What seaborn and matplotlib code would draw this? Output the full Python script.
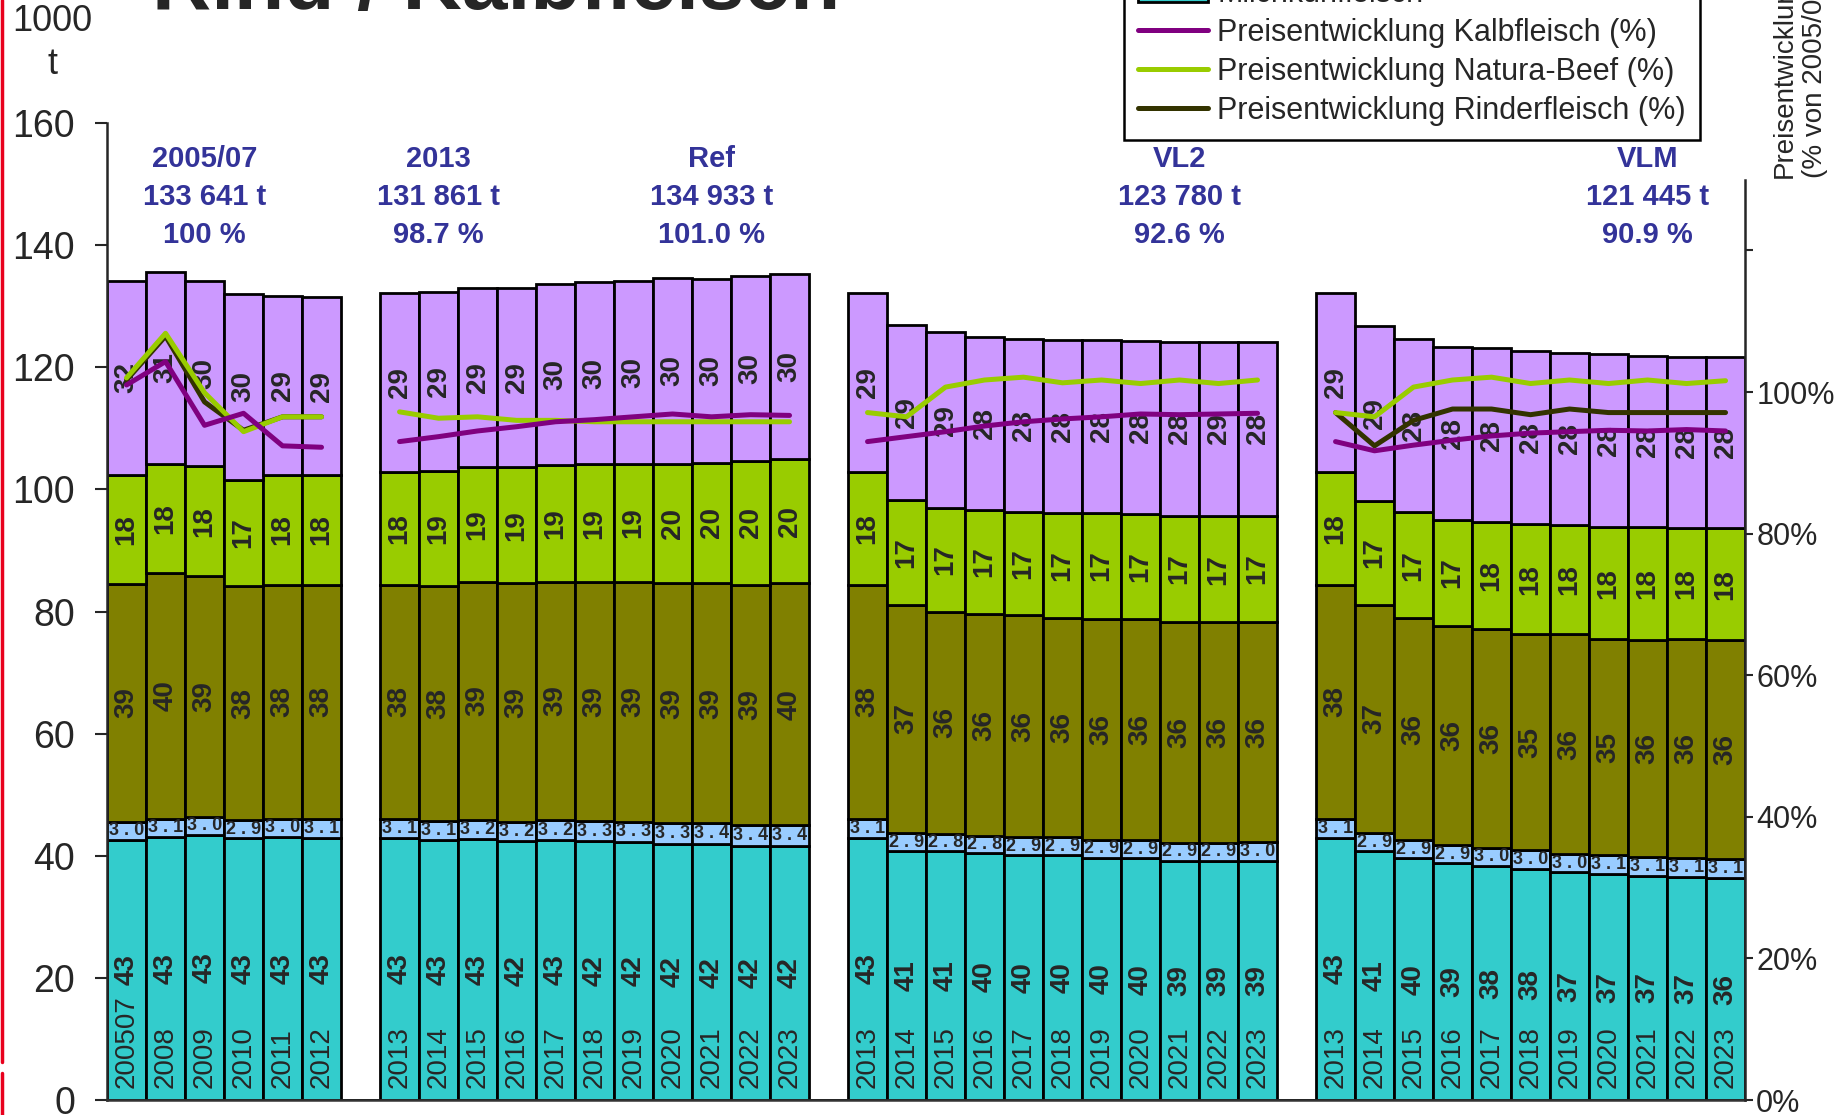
import matplotlib
matplotlib.use('Agg')
import matplotlib.pyplot as plt
from matplotlib.lines import Line2D
from matplotlib.patches import Patch
import numpy as np
import pandas as pd
import seaborn as sns

sns.set_style('ticks')
plt.rcParams['font.family'] = ['Liberation Sans', 'DejaVu Sans']

# ---- data (1000 t), groups: 2005/07-2012 | Ref | VL2 | VLM ----
group_sizes = [6, 11, 11, 11]
years = (['200507', '2008', '2009', '2010', '2011', '2012']
         + [str(y) for y in range(2013, 2024)] * 3)

milchkuh = [42.6, 43.0, 43.4, 42.9, 43.1, 42.9,
            42.9, 42.6, 42.7, 42.4, 42.6, 42.4, 42.3, 42.0, 41.9, 41.6, 41.6,
            42.9, 40.8, 40.8, 40.4, 40.1, 40.1, 39.7, 39.6, 39.2, 39.2, 39.2,
            42.9, 40.8, 39.6, 38.8, 38.3, 37.9, 37.3, 37.0, 36.7, 36.6, 36.3]
mutterkuh = [3.0, 3.1, 3.0, 2.9, 3.0, 3.1,
             3.1, 3.1, 3.2, 3.2, 3.2, 3.3, 3.3, 3.3, 3.4, 3.4, 3.4,
             3.1, 2.9, 2.8, 2.8, 2.9, 2.9, 2.9, 2.9, 2.9, 2.9, 3.0,
             3.1, 2.9, 2.9, 2.9, 3.0, 3.0, 3.0, 3.1, 3.1, 3.1, 3.1]
rind = [38.9, 40.2, 39.4, 38.4, 38.3, 38.4,
        38.4, 38.4, 38.9, 39.0, 39.1, 39.1, 39.2, 39.3, 39.3, 39.4, 39.6,
        38.4, 37.4, 36.4, 36.4, 36.4, 35.9, 36.2, 36.2, 36.2, 36.2, 36.1,
        38.4, 37.4, 36.4, 35.9, 35.8, 35.4, 36.0, 35.4, 35.6, 35.8, 35.9]
natura = [17.9, 17.9, 18.0, 17.4, 17.9, 17.9,
          18.4, 18.9, 18.9, 19.0, 19.1, 19.3, 19.4, 19.6, 19.8, 20.2, 20.3,
          18.4, 17.2, 16.9, 17.1, 16.9, 17.2, 17.3, 17.3, 17.4, 17.3, 17.4,
          18.4, 17.0, 17.4, 17.4, 17.6, 18.0, 17.9, 18.3, 18.4, 18.1, 18.3]
kalb = [31.7, 31.4, 30.3, 30.4, 29.4, 29.2,
        29.4, 29.4, 29.3, 29.4, 29.7, 29.8, 30.0, 30.4, 30.1, 30.3, 30.3,
        29.4, 28.7, 28.9, 28.3, 28.4, 28.3, 28.4, 28.3, 28.4, 28.6, 28.4,
        29.4, 28.6, 28.4, 28.3, 28.4, 28.4, 28.2, 28.4, 28.1, 28.1, 28.1]

# price development (% of 2005/07)
preis_kalb = [101.0, 104.3, 95.3, 97.0, 92.4, 92.2,
              93.0, 93.7, 94.5, 95.1, 95.8, 96.1, 96.5, 96.9, 96.5, 96.8, 96.7,
              93.0, 93.7, 94.4, 95.2, 95.8, 96.2, 96.5, 96.9, 96.8, 96.9, 97.0,
              93.0, 91.7, 92.5, 93.2, 93.8, 94.2, 94.4, 94.6, 94.5, 94.7, 94.5]
preis_natura = [102.0, 108.3, 99.9, 94.4, 96.5, 96.5,
                97.2, 96.3, 96.5, 96.0, 96.0, 95.8, 95.8, 95.8, 95.8, 95.8, 95.8,
                97.1, 96.5, 100.7, 101.7, 102.1, 101.3, 101.7, 101.2, 101.7, 101.2, 101.7,
                97.1, 96.5, 100.7, 101.7, 102.1, 101.2, 101.7, 101.2, 101.7, 101.2, 101.6]
preis_rind = [101.7, 107.9, 98.6, 94.6, 96.5, 96.5,
              None, None, None, None, None, None, None, None, None, None, None,
              None, None, None, None, None, None, None, None, None, None, None,
              97.1, 92.4, 96.0, 97.6, 97.6, 96.8, 97.6, 97.1, 97.1, 97.1, 97.1]

group_names = ['2005/07', '2013', 'Ref', 'VL2', 'VLM']
group_totals = ['133 641 t', '131 861 t', '134 933 t', '123 780 t', '121 445 t']
group_pcts = ['100 %', '98.7 %', '101.0 %', '92.6 %', '90.9 %']

parts = ['Kalbfleisch', 'Natura-Beef', 'Rinderfleisch', 'Mutterkuhfleisch', 'Milchkuhfleisch']
part_values = [kalb, natura, rind, mutterkuh, milchkuh]
part_colors = {'Kalbfleisch': '#CC99FF', 'Natura-Beef': '#99CC00', 'Rinderfleisch': '#808000',
               'Mutterkuhfleisch': '#99CCFF', 'Milchkuhfleisch': '#33CCCC'}
line_names = ['Preisentwicklung Kalbfleisch (%)', 'Preisentwicklung Natura-Beef (%)',
              'Preisentwicklung Rinderfleisch (%)']
line_values = [preis_kalb, preis_natura, preis_rind]
line_colors = {line_names[0]: '#800080', line_names[1]: '#99CC00', line_names[2]: '#333300'}

# bar slots with one empty slot between groups
pos, grp = [], []
start = 0
for g, n in enumerate(group_sizes):
    pos += list(range(start, start + n))
    grp += [g] * n
    start += n + 1
pos = np.array(pos)
label_pos = [2, 8, 15, 27, 39]

bars = pd.DataFrame([(p, name, v) for name, vals in zip(parts, part_values)
                     for p, v in zip(pos, vals)], columns=['pos', 'part', 't'])
lines = pd.DataFrame([(p, g, name, v) for name, vals in zip(line_names, line_values)
                      for p, g, v in zip(pos, grp, vals)],
                     columns=['pos', 'grp', 'series', 'pct']).dropna()

fig = plt.figure(figsize=(18.39, 11.15), dpi=100)
ax = fig.add_axes([0.0582, 0.01345, 0.8907, 0.87623])

sns.histplot(data=bars, x='pos', hue='part', weights='t', hue_order=parts,
             multiple='stack', discrete=True, shrink=1, palette=part_colors,
             alpha=1, edgecolor='black', linewidth=2.0, legend=False, ax=ax)

ax.set_xlim(-0.5, pos.max() + 0.5)
ax.set_ylim(0, 160)
ax.set_yticks(range(0, 161, 20))
ax.set_xticks([])
ax.set_xlabel('')
ax.set_ylabel('')
ax.tick_params(axis='y', labelsize=27, length=9, width=1.5, pad=14)
for s in ['top', 'right']:
    ax.spines[s].set_visible(False)
ax.spines['left'].set_linewidth(1.8)
ax.spines['bottom'].set_linewidth(1.8)
ax.spines['bottom'].set_color('#333333')

# segment labels
base = np.zeros(len(pos))
for name, vals in zip(parts[::-1], part_values[::-1]):
    vals = np.array(vals)
    for p, b, v in zip(pos, base, vals):
        if name == 'Mutterkuhfleisch':
            ax.text(p, b + v / 2, ' '.join(f'{v:.1f}'), ha='center', va='center',
                    fontsize=13, fontweight='bold')
        else:
            ax.text(p, b + v / 2, f'{v:.0f}', ha='center', va='center',
                    rotation=90, fontsize=20, fontweight='bold')
    base += vals

for p, y in zip(pos, years):
    ax.text(p, 2, y, ha='center', va='bottom', rotation=90, fontsize=20)

for x, a, b, c in zip(label_pos, group_names, group_totals, group_pcts):
    ax.text(x, 147.9, f'{a}\n{b}\n{c}', ha='center', va='center', fontsize=21,
            fontweight='bold', color='#333399', linespacing=1.47)

# price lines on secondary axis
ax2 = ax.twinx()
sns.lineplot(data=lines, x='pos', y='pct', hue='series', units='grp', estimator=None,
             hue_order=[line_names[2], line_names[1], line_names[0]],
             palette=line_colors, linewidth=3.6, legend=False, ax=ax2)
ax2.set_ylim(0, 138)
ax2.set_yticks(range(0, 121, 20))
ax2.set_yticklabels([f'{v}%' for v in range(0, 101, 20)] + [''])
ax2.set_xlabel('')
ax2.set_ylabel('')
ax2.tick_params(axis='y', labelsize=22, length=6, width=1.5, pad=2)
for s in ['top', 'left', 'bottom']:
    ax2.spines[s].set_visible(False)
ax2.spines['right'].set_bounds(0, 130)
ax2.spines['right'].set_linewidth(1.8)

# legend (top part runs off the figure)
handles = [Patch(facecolor=part_colors[n], edgecolor='black', linewidth=2.0, label=n) for n in parts]
handles += [Line2D([], [], color=line_colors[n], lw=3.6, label=n) for n in line_names]
fig.legend(handles=handles, loc='lower left', bbox_to_anchor=(0.6112, 0.8745),
           borderaxespad=0, fontsize=22, frameon=True, fancybox=False, edgecolor='black',
           framealpha=1, labelspacing=0.3, handlelength=2.3, handletextpad=0.3,
           borderpad=0.45).get_frame().set_linewidth(1.8)

fig.text(52 / 1839, 1 - 43 / 1115, '1000\nt', ha='center', va='center', fontsize=26,
         linespacing=1.3)
fig.text(1800 / 1839, 1 - 178 / 1115, 'Preisentwicklung\n(% von 2005/07)', rotation=90,
         ha='center', va='bottom', fontsize=20, multialignment='left')
fig.text(0.0827, 0.9919, 'Rind / Kalbfleisch', ha='left', va='baseline', fontsize=59,
         fontweight='bold')

fig.add_artist(Line2D([0.001, 0.001], [0.0475, 1], transform=fig.transFigure,
                      color='#E8001C', lw=2.5))
fig.add_artist(Line2D([0.001, 0.001], [0, 0.0377], transform=fig.transFigure,
                      color='#E8001C', lw=2.5))

fig.savefig('out.png', dpi=100)
